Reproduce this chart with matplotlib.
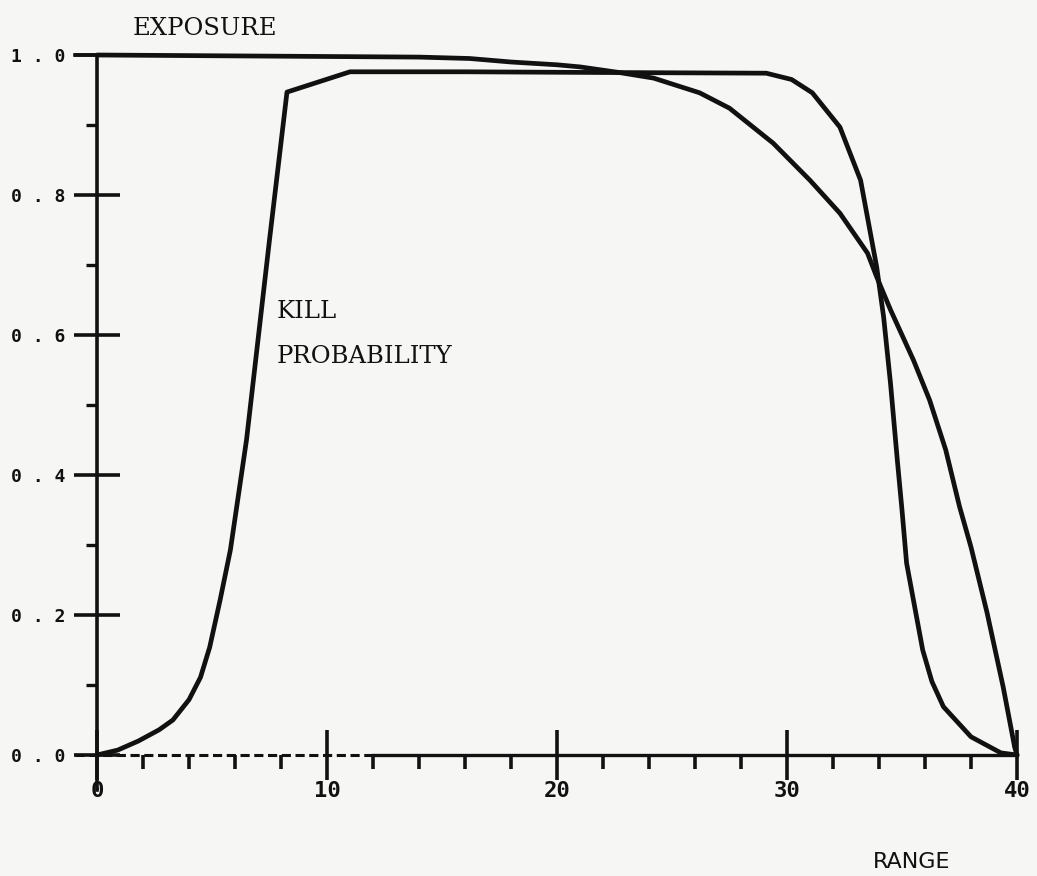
import matplotlib.pyplot as plt
from matplotlib.ticker import MultipleLocator, FixedLocator

# range values (x) and curves
exposure_x = [0, 14, 16.2, 18, 20, 21, 22.7, 24.2, 26.2, 27.5, 29.4, 31, 32.3,
              33.5, 33.9, 34.5, 35.5, 36.2, 36.9, 37.5, 38.0, 38.7, 39.4, 39.9, 40]
exposure_y = [1.0, 0.997, 0.995, 0.99, 0.986, 0.983, 0.975, 0.967, 0.946, 0.924,
              0.874, 0.821, 0.774, 0.717, 0.683, 0.636, 0.564, 0.507, 0.436,
              0.355, 0.297, 0.203, 0.097, 0.011, 0.0]

kill_x = [0, 0.9, 1.8, 2.7, 3.3, 4.0, 4.5, 4.9, 5.35, 5.8, 6.5, 7.5, 8.26, 11.0,
          16, 22, 29.1, 30.2, 31.1, 32.3, 33.2, 33.9, 34.2, 34.5, 34.8, 35.0,
          35.2, 35.9, 36.3, 36.8, 38.0, 39.3, 40]
kill_y = [0.0, 0.007, 0.02, 0.036, 0.05, 0.079, 0.111, 0.154, 0.221, 0.293,
          0.45, 0.736, 0.947, 0.976, 0.976, 0.975, 0.974, 0.965, 0.946, 0.897,
          0.821, 0.697, 0.626, 0.531, 0.42, 0.35, 0.274, 0.15, 0.105, 0.069,
          0.026, 0.003, 0.0]

x_ticks = [0, 10, 20, 30, 40]
x_ticklabels = ["0", "10", "20", "30", "40"]
y_ticks = [0.0, 0.2, 0.4, 0.6, 0.8, 1.0]
y_ticklabels = ["0 . 0", "0 . 2", "0 . 4", "0 . 6", "0 . 8", "1 . 0"]

bg = "#f6f6f4"
ink = "#111111"
W, H = 1037, 876

fig = plt.figure(figsize=(W / 100, H / 100), dpi=100, facecolor=bg)
ax = fig.add_axes([97 / W, (H - 755) / H, 920 / W, 700 / H], facecolor=bg)
ax.set_xlim(0, 40)
ax.set_ylim(0, 1)

ax.plot(exposure_x, exposure_y, color=ink, lw=3.4, clip_on=False,
        solid_joinstyle="round", solid_capstyle="round")
ax.plot(kill_x, kill_y, color=ink, lw=3.4, clip_on=False,
        solid_joinstyle="round", solid_capstyle="round")

# axes drawn by hand: y axis runs a little below zero, x axis starts dashed
for s in ax.spines.values():
    s.set_visible(False)
ax.plot([0, 0], [-0.05, 1.0], color=ink, lw=2.6, clip_on=False)
ax.plot([-0.95, 12], [0, 0], color=ink, lw=2.2, ls=(0, (3, 1.5)), clip_on=False)
ax.plot([12, 40], [0, 0], color=ink, lw=2.4, clip_on=False)
ax.plot([-0.95, 0], [1, 1], color=ink, lw=2.6, clip_on=False)

mono = {"family": "DejaVu Sans Mono", "weight": "bold"}
ax.xaxis.set_major_locator(FixedLocator(x_ticks))
ax.set_xticklabels(x_ticklabels, fontdict=dict(mono, size=16))
ax.xaxis.set_minor_locator(MultipleLocator(2))
ax.yaxis.set_major_locator(FixedLocator(y_ticks))
ax.set_yticklabels(y_ticklabels, fontdict=dict(mono, size=13))
ax.yaxis.set_minor_locator(FixedLocator([0.1, 0.3, 0.5, 0.7, 0.9]))

ax.tick_params(axis="x", which="major", direction="inout", length=36, width=2.6,
               color=ink, pad=1, labelcolor=ink)
ax.tick_params(axis="x", which="minor", direction="out", length=10, width=2.6,
               color=ink)
ax.tick_params(axis="y", which="major", direction="inout", length=33, width=2.6,
               color=ink, pad=6, labelcolor=ink)
ax.tick_params(axis="y", which="minor", direction="out", length=8, width=2.4,
               color=ink)

serif = {"family": "DejaVu Serif", "size": 17.5, "color": ink}
fig.text(133 / W, 1 - 35 / H, "EXPOSURE", ha="left", va="baseline", **serif)
fig.text(277 / W, 1 - 318 / H, "KILL", ha="left", va="baseline", **serif)
fig.text(277 / W, 1 - 363 / H, "PROBABILITY", ha="left", va="baseline", **serif)
fig.text(912 / W, 1 - 868 / H, "RANGE", ha="center", va="baseline",
         family="DejaVu Sans", size=16, color=ink)

fig.savefig("out.png", dpi=100, facecolor=bg)
